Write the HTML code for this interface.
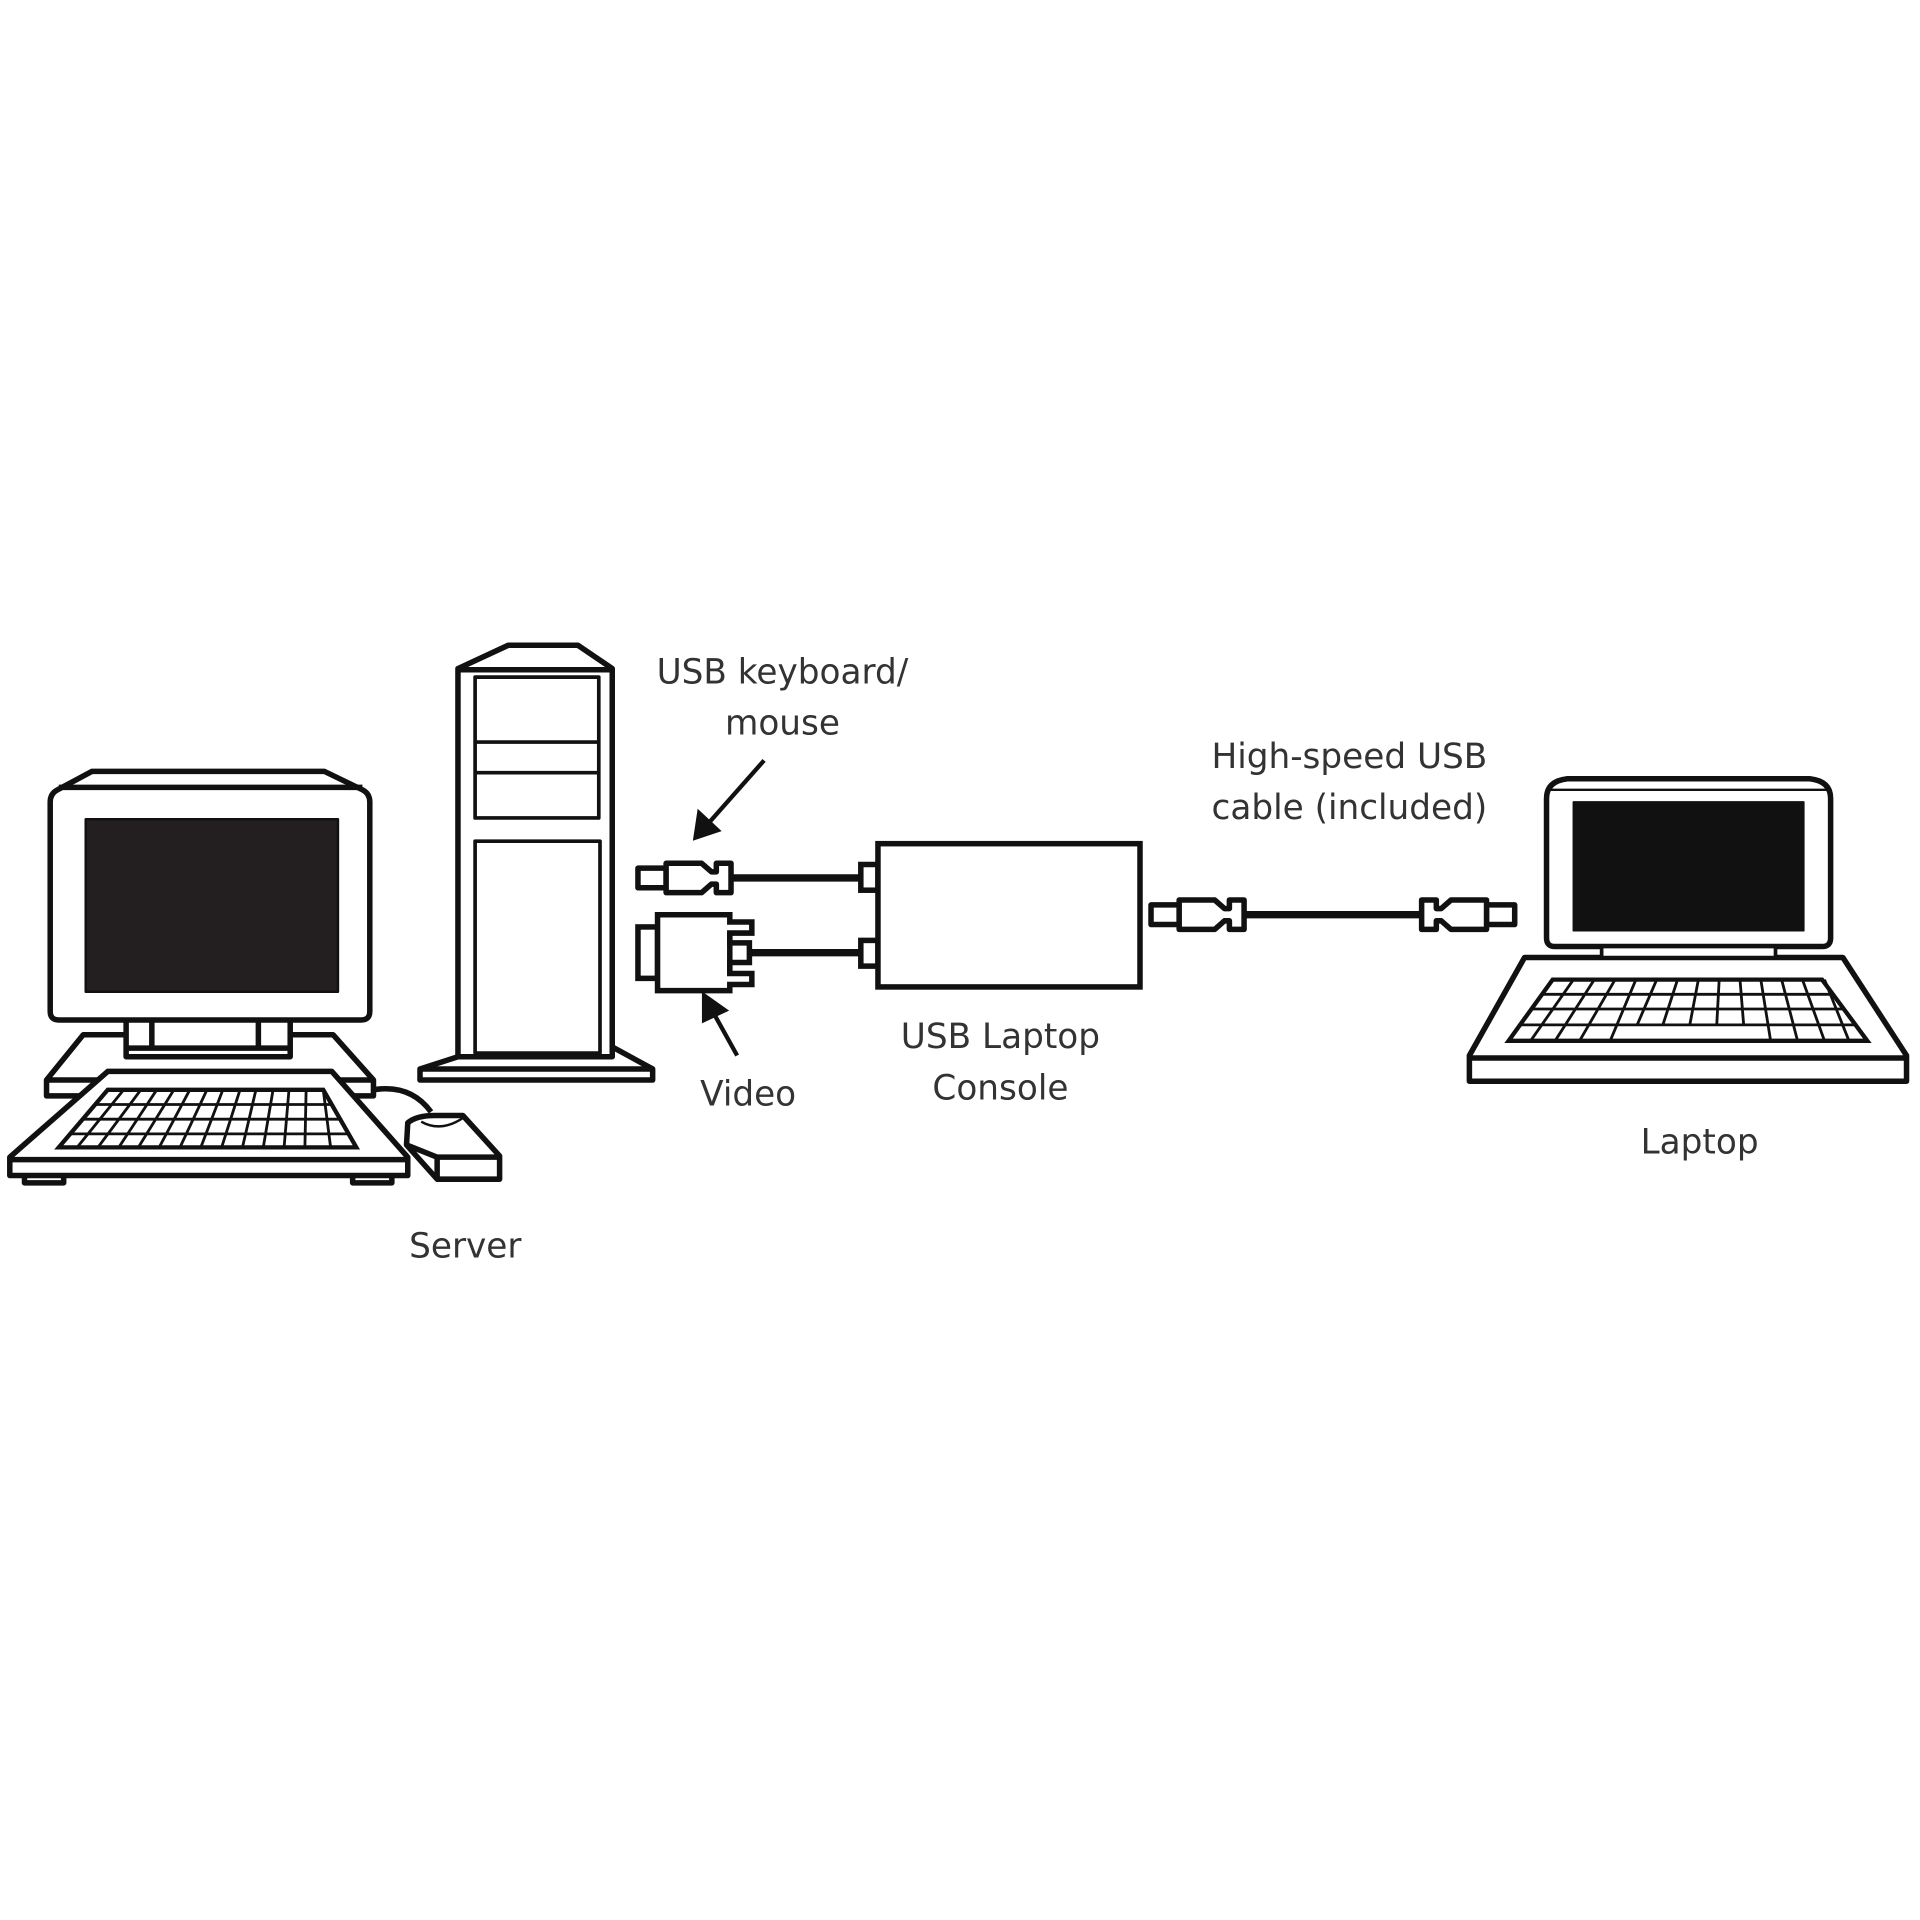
<!DOCTYPE html>
<html><head><meta charset="utf-8"><style>html,body{margin:0;padding:0;background:#fff}svg{display:block}</style></head>
<body>
<svg width="1920" height="1920" viewBox="0 0 1568 1568" xmlns="http://www.w3.org/2000/svg">
<defs>
<g id="plug" fill="#fff" stroke="#111" stroke-width="4.5" stroke-linejoin="round">
<rect x="0" y="-8" width="23" height="16"/>
<path d="M23,-12 H52 L60,-5 H64 V-12 H76 V12 H64 V5 H60 L52,12 H23 Z"/>
</g>
</defs>
<rect width="1568" height="1568" fill="#fff"/>
<g fill="#fff" stroke="#111" stroke-width="4.5" stroke-linejoin="round">
<path d="M68,845 H272 L305,882 V895 H38 V882 Z"/>
<line x1="38" y1="882" x2="305" y2="882"/>
<rect x="103" y="830" width="134" height="33"/>
<line x1="124" y1="830" x2="124" y2="856"/><line x1="211" y1="830" x2="211" y2="856"/>
<line x1="103" y1="856" x2="237" y2="856"/>
<path d="M75,630 H265 L296,645 Q302,648 302,655 V826 Q302,833 295,833 H48 Q41,833 41,826 V655 Q41,648 47,645 Z"/>
<line x1="48" y1="643" x2="296" y2="643"/>
<rect x="70" y="669" width="206" height="141" fill="#231f20" stroke-width="2"/>
<rect x="20" y="950" width="32" height="16"/><rect x="288" y="950" width="32" height="16"/>
<path d="M88,875 H271 L333,945 V960 H8 V945 Z"/>
<line x1="8" y1="947" x2="333" y2="947"/>
<path d="M305,890 Q335,885 352,908" fill="none"/>
<path d="M333,917 Q340,911 355,911 H378 L408,944 V963 H357 L332,935 Z"/>
<path d="M332,935 L357,945 H408 M357,945 V963" fill="none"/>
<path d="M344,916 Q360,925 378,913" fill="none" stroke-width="2"/>
</g>
<g stroke="#111" stroke-width="2.3" fill="none">
<path d="M88,890 H264 L291,937 H48 Z" fill="#fff" stroke-width="3.5"/>
<line x1="78" y1="902" x2="271" y2="902"/><line x1="68" y1="914" x2="278" y2="914"/><line x1="58" y1="926" x2="285" y2="926"/>
<path d="M101,890 L63,937 M115,890 L80,937 M128,890 L97,937 M142,890 L113,937 M155,890 L130,937 M169,890 L147,937 M182,890 L164,937 M196,890 L181,937 M209,890 L198,937 M223,890 L215,937 M236,890 L232,937 M250,890 L249,937 M264,890 L270,937"/>
</g>
<g fill="#fff" stroke="#111" stroke-width="4.5" stroke-linejoin="round">
<path d="M374,863 L343,873 V882 H533 V873 L500,855 Z"/>
<line x1="343" y1="873" x2="533" y2="873"/>
<path d="M415,527 H472 L500,546 V863 H374 V546 Z"/>
<line x1="374" y1="547" x2="500" y2="547"/>
<rect x="388" y="553" width="101" height="115" stroke-width="3"/>
<line x1="388" y1="606" x2="489" y2="606" stroke-width="3"/>
<line x1="388" y1="631" x2="489" y2="631" stroke-width="3"/>
<rect x="388" y="687" width="102" height="173" stroke-width="3"/>
</g>
<g stroke="#111" stroke-width="6">
<line x1="597" y1="717" x2="703" y2="717"/>
<line x1="612" y1="778" x2="703" y2="778"/>
<line x1="1016" y1="747" x2="1162" y2="747"/>
</g>
<use href="#plug" x="521" y="717"/>
<use href="#plug" x="940" y="747"/>
<use href="#plug" transform="translate(1237,747) scale(-1,1)"/>
<g fill="#fff" stroke="#111" stroke-width="4.5">
<rect x="521" y="757" width="16" height="42"/>
<path d="M537,747 H596 V753 H614 V762 H596 V770 H612 V786 H596 V795 H614 V804 H596 V809 H537 Z"/>
<line x1="596" y1="762" x2="596" y2="795"/>
<rect x="703" y="706" width="14" height="21"/>
<rect x="703" y="768" width="14" height="21"/>
<rect x="717" y="689" width="214" height="117"/>
</g>
<g fill="#fff" stroke="#111" stroke-width="4.5" stroke-linejoin="round">
<path d="M1245,782 H1505 L1557,862 V883 H1200 V862 Z"/>
<line x1="1200" y1="864" x2="1557" y2="864"/>
<path d="M1280,636 H1478 Q1495,638 1495,652 V766 Q1495,773 1488,773 H1270 Q1263,773 1263,766 V652 Q1263,638 1280,636 Z"/>
<line x1="1266" y1="645" x2="1492" y2="645" stroke-width="2"/>
<rect x="1285" y="655" width="188" height="105" fill="#111" stroke-width="1.5"/>
<rect x="1308" y="773" width="142" height="9" stroke-width="3"/>
</g>
<g stroke="#111" stroke-width="2.3" fill="none">
<path d="M1268,800 H1488 L1525,850 H1232 Z" fill="#fff" stroke-width="3.5"/>
<line x1="1259" y1="812" x2="1497" y2="812"/><line x1="1250" y1="824" x2="1506" y2="824"/><line x1="1241" y1="837" x2="1515" y2="837"/>
<path d="M1285,800 L1250,850 M1302,800 L1270,850 M1319,800 L1290,850 M1336,800 L1315,850 M1353,800 L1337,837 M1370,800 L1358,837 M1387,800 L1380,837 M1404,800 L1402,837 M1421,800 L1424,837 M1438,800 L1446,850 M1455,800 L1468,850 M1472,800 L1490,850 M1490,800 L1510,850"/>
</g>
<g stroke="#111" stroke-width="3.5" fill="#111">
<line x1="624" y1="621" x2="578" y2="673"/>
<path d="M568,684 L571,664 L586,678 Z"/>
<line x1="602" y1="862" x2="582" y2="826"/>
<path d="M575,813 L592,825 L575,833 Z"/>
</g>
<g font-family="'DejaVu Sans','Liberation Sans',sans-serif" font-size="28" fill="#333" text-anchor="middle">
<text x="639" y="558">USB keyboard/</text>
<text x="639" y="600">mouse</text>
<text x="1102" y="627">High-speed USB</text>
<text x="1102" y="669">cable (included)</text>
<text x="817" y="856">USB Laptop</text>
<text x="817" y="898">Console</text>
<text x="611" y="903">Video</text>
<text x="380" y="1027">Server</text>
<text x="1388" y="942">Laptop</text>
</g>
</svg>
</body></html>
